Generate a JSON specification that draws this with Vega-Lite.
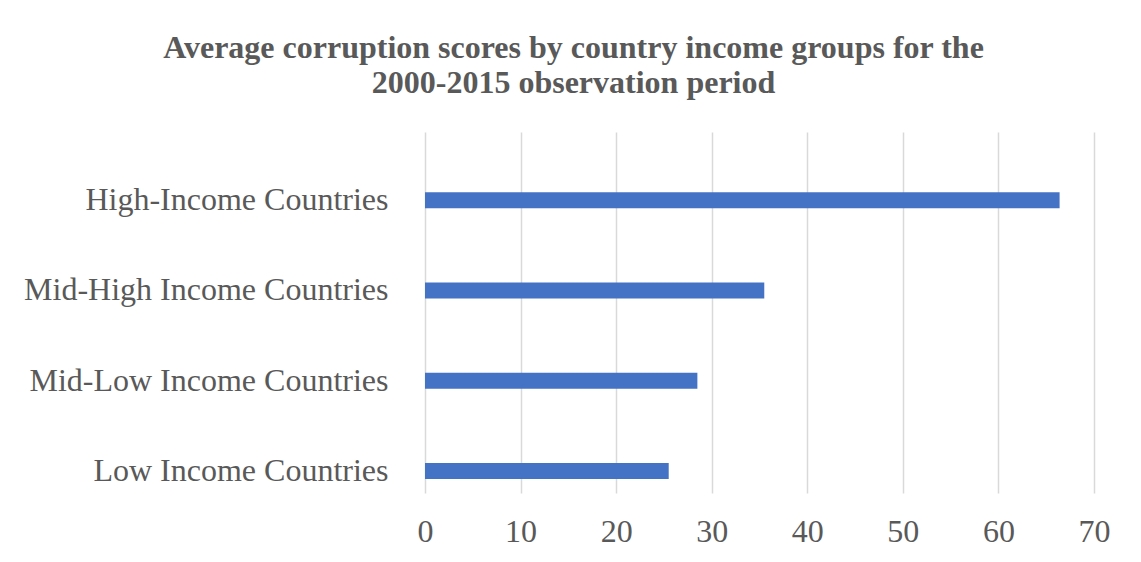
{
  "$schema": "https://vega.github.io/schema/vega-lite/v6.json",
  "autosize": "none",
  "width": 669,
  "height": 361,
  "padding": {"left": 425, "top": 132, "right": 47, "bottom": 69},
  "background": "#ffffff",
  "title": {
    "text": ["Average corruption scores by country income groups for the", "2000-2015 observation period"],
    "font": "Liberation Serif",
    "fontSize": 32,
    "fontWeight": "bold",
    "color": "#595959",
    "anchor": "middle",
    "frame": "group",
    "dx": -186,
    "lineHeight": 35,
    "offset": 32
  },
  "data": {
    "values": [
      {"group": "High-Income Countries", "score": 66.4},
      {"group": "Mid-High Income Countries", "score": 35.5},
      {"group": "Mid-Low Income Countries", "score": 28.5},
      {"group": "Low Income Countries", "score": 25.5}
    ]
  },
  "mark": {"type": "bar", "color": "#4472C4"},
  "encoding": {
    "y": {
      "field": "group",
      "type": "nominal",
      "sort": null,
      "scale": {"paddingInner": 0.823, "paddingOuter": 0.4115, "align": 0.81},
      "axis": {
        "title": null,
        "ticks": false,
        "domain": false,
        "grid": false,
        "labelFont": "Liberation Serif",
        "labelFontSize": 32,
        "labelColor": "#595959",
        "labelPadding": 37,
        "labelLimit": 500
      }
    },
    "x": {
      "field": "score",
      "type": "quantitative",
      "scale": {"domain": [0, 70], "nice": false},
      "axis": {
        "title": null,
        "values": [0, 10, 20, 30, 40, 50, 60, 70],
        "ticks": false,
        "domain": false,
        "grid": true,
        "gridColor": "#D9D9D9",
        "gridWidth": 1.5,
        "labelFlush": false,
        "labelFont": "Liberation Serif",
        "labelFontSize": 32,
        "labelColor": "#595959",
        "labelPadding": 23
      }
    }
  },
  "config": {"view": {"stroke": null}}
}
